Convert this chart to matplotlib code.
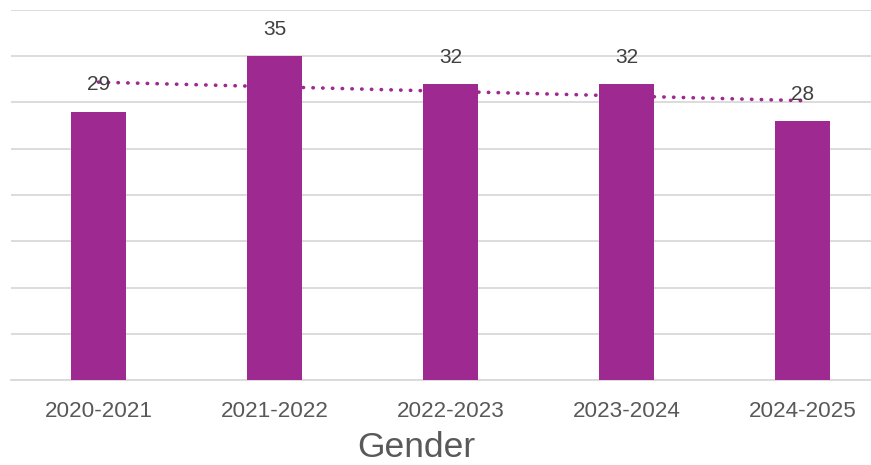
import matplotlib
matplotlib.use("Agg")
import matplotlib.pyplot as plt
import numpy as np

plt.rcParams['font.family'] = ['Liberation Sans', 'DejaVu Sans']

categories = ["2020-2021", "2021-2022", "2022-2023", "2023-2024", "2024-2025"]
values = [29, 35, 32, 32, 28]
y_ticks = [0, 5, 10, 15, 20, 25, 30, 35, 40]
axis_title = "Gender"

bar_color = "#9E2A91"
grid_color = "#D9D9D9"

W, H = 871, 465
fig = plt.figure(figsize=(W / 100, H / 100), dpi=100)
left, right, bottom, top = 10.5 / W, 1.0, 1 - 380 / H, 1 - 10 / H
ax = fig.add_axes([left, bottom, right - left, top - bottom])

x = np.arange(len(categories))
step_px = 176.0
ax.set_xlim(-0.5, -0.5 + (W - 10.5) / step_px)
ax.set_ylim(0, 40)

ax.bar(x, values, width=55 / step_px, color=bar_color, zorder=3)

# linear trend line across the series
slope, intercept = np.polyfit(x, values, 1)
ax.plot(x, slope * x + intercept, linestyle=(0, (0.1, 2.6)), dash_capstyle='round',
        color=bar_color, linewidth=2.6, zorder=4)

for xi, v in zip(x, values):
    ax.annotate(str(v), (xi, v), xytext=(0, 12.5), textcoords='offset points',
                ha='center', va='bottom', fontsize=15, color='#404040', zorder=5)

ax.set_yticks(y_ticks)
ax.yaxis.grid(True, color=grid_color, linewidth=1.3, zorder=0)
ax.tick_params(axis='y', left=False, labelleft=False)
ax.set_xticks(x)
ax.set_xticklabels(categories, fontsize=16.2, color='#595959')
ax.tick_params(axis='x', length=0, pad=15)
for s in ['top', 'right', 'left']:
    ax.spines[s].set_visible(False)
ax.spines['bottom'].set_color(grid_color)
ax.spines['bottom'].set_linewidth(1.3)

fig.text(416.5 / W, 1 - 447 / H, axis_title, ha='center', va='center',
         fontsize=25.5, color='#595959')

fig.savefig("out.png", dpi=100)
